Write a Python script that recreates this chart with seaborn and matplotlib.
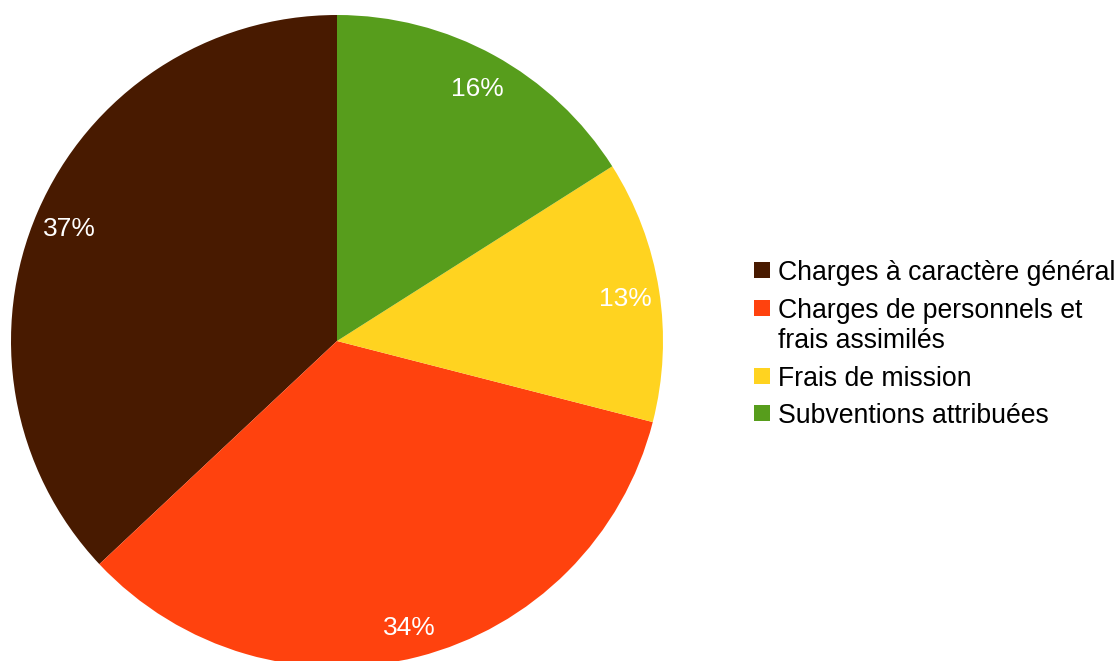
import matplotlib
matplotlib.use("Agg")
import matplotlib.pyplot as plt
import seaborn as sns
from matplotlib.patches import Rectangle
from matplotlib.transforms import ScaledTranslation

categories = ["Charges à caractère général",
              "Charges de personnels et\nfrais assimilés",
              "Frais de mission",
              "Subventions attribuées"]
values = [37, 34, 13, 16]
colors = ["#481a00", "#ff420e", "#ffd320", "#579d1c"]

sns.set_theme(style="white")
plt.rcParams['font.family'] = ['Liberation Sans', 'DejaVu Sans']

W, H = 1119, 661
fig = plt.figure(figsize=(W / 100, H / 100), dpi=100)
fig.patch.set_facecolor("white")

cx, cy, r = 337, 341, 326
ax = fig.add_axes([(cx - r) / W, (H - cy - r) / H, 2 * r / W, 2 * r / H])
palette = sns.color_palette(colors)
wedges, texts, autotexts = ax.pie(values, colors=palette, startangle=90,
                                  counterclock=True, autopct='%1.0f%%',
                                  pctdistance=0.895,
                                  wedgeprops=dict(linewidth=0, edgecolor="none"),
                                  textprops=dict(color="white", fontsize=19))
for t in autotexts:
    t.set_transform(t.get_transform() + ScaledTranslation(0, -4 / 100, fig.dpi_scale_trans))
ax.set_xlim(-1, 1)
ax.set_ylim(-1, 1)
ax.set_aspect('equal')
ax.axis('off')

# legend (manual, top-aligned squares)
fs = 19.2
sq = 16
x_sq = 754
x_txt = 778
y_tops = [262, 300, 368, 405]
for lab, col, yt in zip(categories, colors, y_tops):
    fig.patches.append(Rectangle((x_sq / W, 1 - (yt + sq) / H), sq / W, sq / H,
                                 transform=fig.transFigure, facecolor=col,
                                 edgecolor="none"))
    fig.text(x_txt / W, 1 - (yt + sq / 2) / H, lab.split("\n")[0], fontsize=fs,
             va="center_baseline", ha="left", color="black")
    if "\n" in lab:
        fig.text(x_txt / W, 1 - (yt + sq / 2 + 30) / H, lab.split("\n")[1],
                 fontsize=fs, va="center_baseline", ha="left", color="black")

fig.savefig("out.png", dpi=100, facecolor="white")
